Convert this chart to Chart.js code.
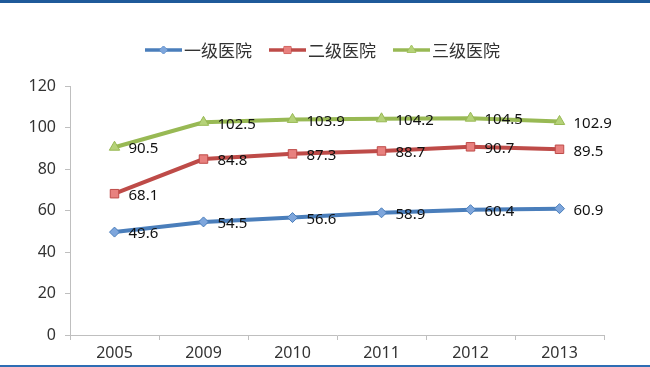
<!DOCTYPE html>
<html>
<head>
<meta charset="utf-8">
<script src="https://cdn.jsdelivr.net/npm/chart.js@4/dist/chart.umd.min.js"></script>
<style>
  html, body { margin: 0; padding: 0; background: #fff; }
  #wrap { width: 650px; height: 367px; }
</style>
</head>
<body>
<div id="wrap"><canvas id="chart" width="650" height="367"></canvas></div>
<script>
const years = ['2005', '2009', '2010', '2011', '2012', '2013'];
const level1 = [49.6, 54.5, 56.6, 58.9, 60.4, 60.9];
const level2 = [68.1, 84.8, 87.3, 88.7, 90.7, 89.5];
const level3 = [90.5, 102.5, 103.9, 104.2, 104.5, 102.9];
const seriesNames = ['一级医院', '二级医院', '三级医院'];

const SERIES = [
    { line: '#4A7EBB', fill: '#7EA6DC', border: '#4A7EBB', style: 'rectRot', r: 5 },
    { line: '#BE4B48', fill: '#E8817F', border: '#BE4B48', style: 'rect', r: 6 },
    { line: '#98B954', fill: '#B5D279', border: '#98B954', style: 'triangle', r: 6 },
];
const FONT = '"Noto Sans", "Open Sans", sans-serif';

// frame bars, legend and value labels
const decor = {
    id: 'decor',
    beforeDraw(chart) {
        const c = chart.ctx;
        c.save();
        c.fillStyle = '#fff';
        c.fillRect(0, 0, chart.width, chart.height);
        c.fillStyle = '#1F5A9A';
        c.fillRect(0, 0, chart.width, 3);
        c.fillStyle = '#2E6DB4';
        c.fillRect(0, chart.height - 2, chart.width, 2);
        c.restore();
    },
    afterDatasetsDraw(chart) {
        const c = chart.ctx;
        c.save();
        c.font = '15px ' + FONT;
        c.fillStyle = '#111';
        c.textBaseline = 'middle';
        chart.data.datasets.forEach((ds, i) => {
            chart.getDatasetMeta(i).data.forEach((pt, j) => {
                c.fillText(ds.data[j].toFixed(1), pt.x + 14, pt.y + 2);
            });
        });

        // legend
        const xs = [145, 269, 393];
        const y = 50;
        c.font = '17px "Noto Sans CJK SC", sans-serif';
        seriesNames.forEach((name, i) => {
            const s = SERIES[i];
            c.strokeStyle = s.line;
            c.lineWidth = 3.5;
            c.beginPath();
            c.moveTo(xs[i], y);
            c.lineTo(xs[i] + 37, y);
            c.stroke();
            c.fillStyle = s.fill;
            c.strokeStyle = s.border;
            c.lineWidth = 1;
            Chart.helpers.drawPoint(c, { pointStyle: s.style, radius: s.r - 1, borderWidth: 1 }, xs[i] + 18.5, y);
            c.fill();
            c.fillStyle = '#333';
            c.fillText(name, xs[i] + 39, y + 1);
        });
        c.restore();
    }
};

const sets = [level1, level2, level3];
new Chart(document.getElementById('chart'), {
    type: 'line',
    data: {
        labels: years,
        datasets: sets.map((d, i) => ({
            label: seriesNames[i],
            data: d,
            borderColor: SERIES[i].line,
            borderWidth: 4,
            pointStyle: SERIES[i].style,
            pointRadius: SERIES[i].r,
            pointBackgroundColor: SERIES[i].fill,
            pointBorderColor: SERIES[i].border,
            pointBorderWidth: 1,
            tension: 0,
        }))
    },
    options: {
        responsive: false,
        animation: false,
        layout: { padding: { top: 86, right: 46, left: 0, bottom: 0 } },
        plugins: { legend: { display: false }, tooltip: { enabled: false } },
        scales: {
            x: {
                offset: true,
                afterFit: s => { s.height = 32; },
                grid: { offset: true, drawOnChartArea: false, tickLength: 5, color: '#BFBFBF' },
                border: { color: '#BFBFBF' },
                ticks: { color: '#333', font: { family: FONT, size: 16 }, padding: 4 },
            },
            y: {
                min: 0, max: 120,
                afterFit: s => { s.width = 70; },
                grid: { drawOnChartArea: false, tickLength: 5, color: '#BFBFBF' },
                border: { color: '#BFBFBF' },
                ticks: { stepSize: 20, color: '#333', font: { family: FONT, size: 16 }, padding: 9 },
            }
        }
    },
    plugins: [decor]
});
</script>
</body>
</html>
